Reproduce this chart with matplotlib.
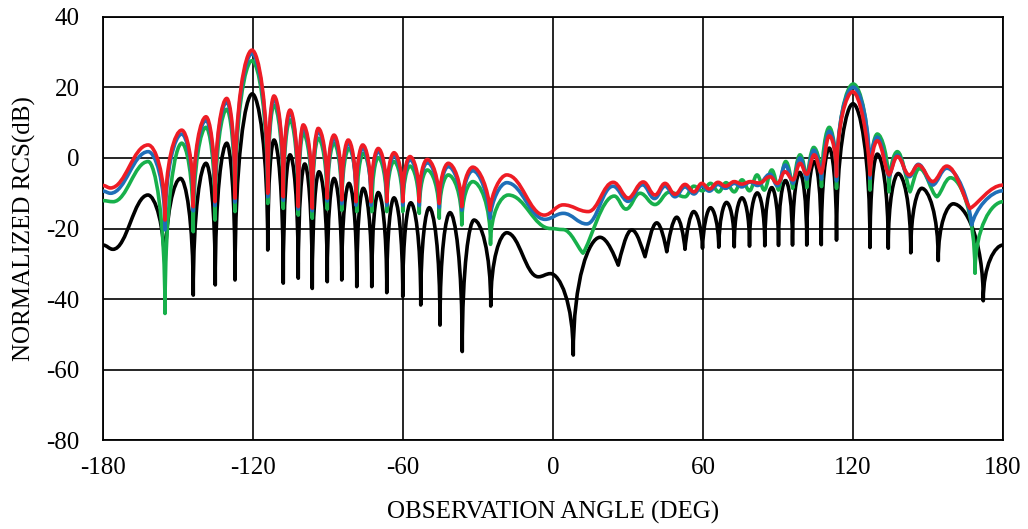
import numpy as np
import matplotlib.pyplot as plt
from matplotlib.path import Path
from matplotlib.patches import PathPatch

plt.rcParams['font.family'] = ['Liberation Serif', 'DejaVu Serif']
plt.rcParams['axes.unicode_minus'] = False

# lobe peaks / nulls of each RCS trace (angle in deg, level in dB)
black_deg = [-180, -176, -162, -155.2, -149, -143.9, -138.8, -135.1, -130.5, -127.2,
             -120.3, -114.1, -111.6, -107.9, -105.2, -101.9, -99.3, -96.3, -93.6, -90.3,
             -87.6, -84.5, -81.6, -78.5, -75.9, -72.5, -69.9, -66.5, -63.6, -60.1,
             -56.9, -52.9, -49.5, -45.2, -41.2, -36.3, -31.6, -24.9, -18.5, -5.9,
             -1.0, 8.1, 18.8, 26.1, 31.5, 36.8, 41.5, 45.5, 49.5, 52.8,
             56.3, 59.8, 63.0, 66.3, 69.4, 72.5, 75.6, 78.6, 81.7, 84.7,
             87.5, 90.2, 93.0, 95.8, 98.7, 101.5, 104.5, 107.3, 110.5, 113.4,
             120.0, 126.8, 129.7, 134.1, 138.1, 143.1, 147.5, 154.1, 160.1, 172.1, 180]
black_db = [-24.7, -25.9, -10.5, -33.7, -5.8, -38.9, -1.5, -36.0, 4.2, -34.6,
            18.2, -26.1, 5.1, -35.5, 0.9, -34.1, -1.7, -37.0, -3.9, -35.1,
            -5.8, -34.6, -7.2, -36.5, -8.6, -36.5, -9.8, -38.2, -11.3, -39.3,
            -12.7, -41.7, -14.1, -47.4, -15.5, -54.9, -17.6, -42.0, -21.2, -33.7,
            -32.8, -55.9, -22.5, -30.4, -20.4, -28.0, -18.4, -26.6, -16.8, -25.9,
            -15.2, -25.6, -14.1, -25.3, -12.6, -25.2, -11.3, -25.0, -9.9, -24.9,
            -8.4, -24.8, -6.4, -24.7, -4.1, -24.7, -1.0, -24.6, 2.8, -23.3,
            15.4, -25.4, 1.1, -25.6, -4.4, -26.9, -8.6, -29.1, -13.0, -40.5, -24.7]

green_deg = [-180, -176, -161.9, -155.2, -148.5, -143.9, -138.8, -135.2, -130.5, -127.2,
             -120.4, -114.1, -111.6, -107.9, -105.2, -101.9, -99.9, -96.3, -93.9, -90.3,
             -87.6, -84.5, -81.6, -78.5, -75.9, -72.5, -69.9, -66.5, -63.6, -60.1,
             -57.2, -53.5, -50.3, -45.5, -41.9, -36.5, -32.1, -25.0, -17.9, -1.0,
             4.0, 12.0, 24.5, 29.2, 34.8, 40.8, 46.5, 52.8, 56.3, 59.8,
             63.0, 66.3, 69.2, 72.5, 75.6, 78.6, 81.6, 84.5, 87.5, 90.2,
             93.1, 95.9, 98.8, 101.5, 104.3, 107.4, 110.5, 113.4, 120.1, 126.8,
             129.7, 134.4, 137.7, 142.8, 146.5, 153.5, 159.0, 168.8, 180]
green_db = [-12.1, -12.4, -1.0, -44.1, 4.2, -20.9, 8.7, -17.6, 13.8, -15.2,
            27.6, -12.9, 15.0, -14.3, 10.8, -16.2, 7.0, -17.1, 5.6, -14.5,
            4.2, -14.8, 2.7, -15.2, 1.3, -15.2, 0.1, -15.2, -1.0, -15.2,
            -2.3, -15.7, -3.4, -17.1, -4.8, -19.0, -6.7, -24.5, -10.5, -20.0,
            -20.3, -27.0, -10.8, -14.5, -10.0, -13.2, -9.7, -11.0, -8.0, -9.3,
            -7.2, -9.6, -7.0, -9.6, -6.2, -9.3, -4.8, -9.1, -3.4, -9.1,
            -1.0, -8.6, 0.9, -8.4, 3.0, -8.1, 8.7, -8.6, 21.0, -9.1,
            6.8, -9.6, 1.8, -9.6, -3.0, -11.0, -5.6, -32.7, -12.4]

blue_deg = [-180, -177, -161.9, -155.2, -148.5, -143.9, -138.8, -135.2, -130.5, -127.2,
            -120.4, -114.1, -111.6, -107.9, -105.2, -101.9, -99.9, -96.3, -93.9, -90.3,
            -87.6, -84.5, -81.9, -78.8, -76.1, -72.8, -69.9, -66.5, -63.6, -60.1,
            -57.2, -53.5, -50.3, -45.5, -41.9, -36.5, -32.1, -25.2, -18.5, -3.2,
            4.1, 13.5, 24.0, 30.0, 35.8, 40.6, 44.8, 48.8, 52.8, 56.4,
            59.5, 62.5, 66.0, 69.0, 72.5, 75.5, 78.8, 81.8, 86.8, 89.8,
            92.9, 96.0, 98.8, 101.5, 104.3, 107.4, 110.5, 113.4, 120.1, 126.8,
            129.7, 134.4, 137.7, 142.5, 146.1, 151.9, 157.5, 167.5, 180]
blue_db = [-9.4, -10.0, 1.8, -20.4, 6.8, -15.0, 10.7, -13.5, 15.9, -12.5,
           29.6, -11.0, 16.8, -12.0, 12.8, -14.5, 8.6, -15.0, 7.5, -12.2,
           5.6, -13.0, 4.2, -13.4, 2.8, -13.4, 1.8, -13.4, 0.6, -13.4,
           -0.5, -13.5, -1.3, -14.0, -2.4, -14.8, -3.6, -17.1, -7.0, -17.4,
           -15.7, -18.7, -8.0, -12.3, -7.6, -11.5, -8.0, -11.0, -8.2, -10.2,
           -7.9, -9.4, -7.5, -8.6, -7.2, -8.2, -6.8, -7.8, -4.6, -7.9,
           -2.0, -7.2, 0.0, -6.0, 2.2, -6.0, 7.6, -6.5, 20.1, -5.8,
           5.9, -5.3, 0.8, -5.3, -1.8, -7.7, -2.9, -19.0, -9.3]

red_deg = [-180, -177, -161.9, -155.2, -148.5, -143.9, -138.8, -135.2, -130.5, -127.2,
           -120.4, -114.1, -111.6, -107.9, -105.2, -101.9, -99.9, -96.3, -93.9, -90.3,
           -87.6, -84.5, -81.9, -78.8, -76.1, -72.8, -69.9, -66.5, -63.6, -60.1,
           -57.2, -53.5, -50.3, -45.5, -41.9, -36.5, -32.1, -25.2, -18.5, -3.5,
           4.1, 14.1, 24.1, 30.1, 36.1, 40.8, 44.8, 48.8, 52.8, 56.4,
           59.5, 62.5, 66.0, 69.0, 72.5, 75.5, 79.0, 82.5, 86.8, 89.8,
           92.8, 96.0, 98.8, 101.5, 104.5, 107.3, 110.5, 113.4, 119.9, 126.8,
           129.7, 134.4, 137.7, 142.5, 146.1, 151.9, 157.5, 166.8, 180]
red_db = [-7.8, -8.5, 3.7, -17.6, 7.9, -13.8, 11.7, -12.4, 16.9, -11.4,
          30.6, -10.0, 17.6, -11.0, 13.6, -13.8, 9.4, -14.2, 8.4, -11.4,
          6.5, -11.9, 5.1, -12.4, 3.7, -12.4, 2.7, -12.4, 1.5, -12.4,
          0.4, -12.4, -0.4, -12.9, -1.5, -13.8, -2.6, -14.8, -4.8, -16.2,
          -13.3, -15.2, -6.9, -11.4, -6.8, -10.5, -7.2, -10.3, -7.5, -9.6,
          -7.2, -8.8, -6.9, -8.0, -6.7, -7.4, -6.7, -7.1, -5.3, -7.2,
          -3.9, -6.2, -1.5, -4.6, 0.9, -4.3, 6.3, -5.2, 18.8, -4.8,
          4.9, -4.8, 0.4, -4.8, -2.0, -6.7, -2.3, -14.3, -7.7]


def trace_path(deg, db):
    # cubic segments between successive extrema: flat tangent at maxima,
    # steeper tangent at deep nulls
    x = np.asarray(deg, float)
    y = np.asarray(db, float)
    n = len(x)
    sharp = np.zeros(n)
    for i in range(1, n - 1):
        lower = min(y[i - 1], y[i + 1])
        if y[i] < lower:
            sharp[i] = np.clip((lower - y[i] - 4.0) / 8.0, 0, 1)
    verts = [(x[0], y[0])]
    codes = [Path.MOVETO]
    for i in range(n - 1):
        dx = x[i + 1] - x[i]
        dy = y[i + 1] - y[i]
        s0, s1 = sharp[i], sharp[i + 1]
        c1 = (x[i] + (1 - s0) * 0.4 * dx, y[i] + s0 * 0.65 * dy)
        c2 = (x[i + 1] - (1 - s1) * 0.4 * dx, y[i + 1] - s1 * 0.65 * dy)
        verts += [c1, c2, (x[i + 1], y[i + 1])]
        codes += [Path.CURVE4] * 3
    return Path(verts, codes)


fig = plt.figure(figsize=(10.28, 5.29), dpi=100)
ax = fig.add_axes([0.1002, 0.1682, 0.8755, 0.7997])

traces = [(black_deg, black_db, 'black'),
          (green_deg, green_db, '#17B04B'),
          (blue_deg, blue_db, '#1F6FB8'),
          (red_deg, red_db, '#EE1C25')]
for z, (deg, db, col) in enumerate(traces):
    ax.add_patch(PathPatch(trace_path(deg, db), fill=False, edgecolor=col,
                           lw=2.6, capstyle='round', joinstyle='round', zorder=3 + z))

ax.set_xlim(-180, 180)
ax.set_ylim(-80, 40)
ax.set_xticks(np.arange(-180, 181, 60))
ax.set_yticks(np.arange(-80, 41, 20))
ax.grid(True, color='black', lw=1.2)
ax.set_axisbelow(True)
for sp in ax.spines.values():
    sp.set_linewidth(1.3)
ax.tick_params(length=0, labelsize=18)
ax.tick_params(axis='y', pad=17)
ax.tick_params(axis='x', pad=12)
ax.set_xlabel('OBSERVATION ANGLE (DEG)', fontsize=18, labelpad=16)
ax.set_ylabel('NORMALIZED RCS(dB)', fontsize=18, labelpad=7)

fig.savefig('out.png', dpi=100)
